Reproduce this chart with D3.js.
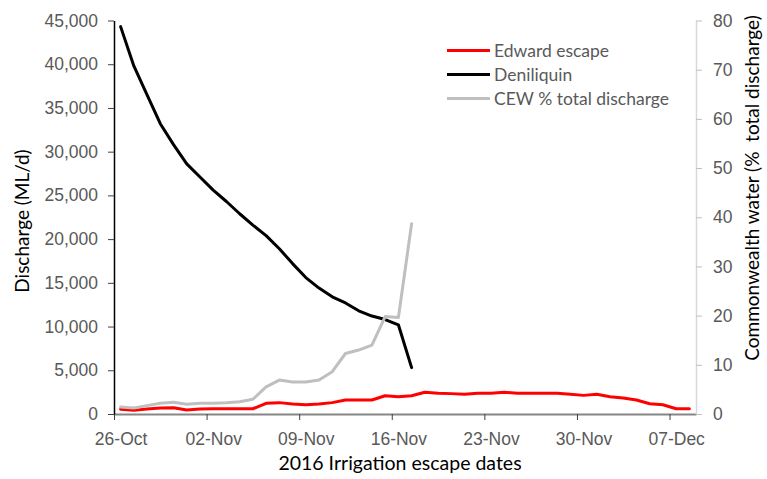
<!DOCTYPE html>
<meta charset="utf-8">
<style>
body { margin: 0; background: #fff; }
svg { font-family: Lato, "Open Sans", sans-serif; }
.tick text { fill: #595959; font-size: 17.5px; }
.ytitle, .xtitle { font-size: 19px; fill: #000; }
.xtitle { font-size: 19.5px; }
.legend text { fill: #595959; font-size: 17.5px; }
</style>
<svg width="767" height="479"></svg>
<script src="https://cdn.jsdelivr.net/npm/d3@7"></script>
<script>

// daily values, first day 26-Oct-2016
var startDate = new Date(2016, 9, 26);
var endDate = new Date(2016, 11, 9);

var edward = [550, 420, 570, 680, 720, 460, 570, 600, 600, 600, 600, 1220, 1300, 1150, 1070,
  1150, 1300, 1600, 1600, 1600, 2090, 1970, 2090, 2480, 2360, 2330, 2250, 2360, 2360, 2480,
  2360, 2360, 2360, 2360, 2250, 2130, 2250, 1980, 1830, 1600, 1180, 1060, 600, 600];

var deniliquin = [44300, 39800, 36500, 33200, 30800, 28600, 27100, 25600, 24300, 22900, 21600,
  20400, 18900, 17200, 15600, 14400, 13400, 12700, 11800, 11200, 10800, 10200, 5300];

var cewPct = [1.4, 1.2, 1.7, 2.2, 2.4, 2.0, 2.2, 2.2, 2.3, 2.5, 3.0, 5.5, 6.9, 6.5, 6.5, 6.9,
  8.6, 12.3, 13.0, 14.0, 19.8, 19.6, 38.7];

var leftTicks = [0, 5000, 10000, 15000, 20000, 25000, 30000, 35000, 40000, 45000];
var rightTicks = [0, 10, 20, 30, 40, 50, 60, 70, 80];
var weekOffsets = [0, 7, 14, 21, 28, 35, 42];

var seriesNames = ["Edward escape", "Deniliquin", "CEW % total discharge"];
var seriesColors = ["#ff0000", "#000000", "#bfbfbf"];

var svg = d3.select("svg");
var plotL = 114, plotR = 696, plotT = 20.5, plotB = 414;

var x = d3.scaleTime().domain([startDate, endDate]).range([plotL, plotR]);
var yL = d3.scaleLinear().domain([0, 45000]).range([plotB, plotT]);
var yR = d3.scaleLinear().domain([0, 80]).range([plotB, plotT]);

function dayMid(i) { return d3.timeHour.offset(d3.timeDay.offset(startDate, i), 12); }

var fmtDate = d3.timeFormat("%d-%b");
var tickDates = weekOffsets.map(function(o) { return d3.timeDay.offset(startDate, o); });

// x axis
var gx = svg.append("g")
    .attr("transform", "translate(0," + plotB + ")")
    .call(d3.axisBottom(x).tickValues(tickDates).tickSize(6).tickSizeOuter(0)
      .tickPadding(13).tickFormat(fmtDate));
gx.select(".domain").attr("stroke", "#868686").attr("stroke-width", 2);
gx.selectAll(".tick line").attr("stroke", "#404040");
// labels sit in the middle of the day
gx.selectAll(".tick text").attr("x", (x(dayMid(0)) - x(startDate)));

// left axis
var gl = svg.append("g")
    .attr("transform", "translate(" + plotL + ",0)")
    .call(d3.axisLeft(yL).tickValues(leftTicks).tickSize(6).tickSizeOuter(0)
      .tickPadding(10).tickFormat(d3.format(",")));
gl.select(".domain").attr("stroke", "#000").attr("stroke-width", 1.5);
gl.selectAll(".tick line").attr("stroke", "#404040");

// right axis
var gr = svg.append("g")
    .attr("transform", "translate(" + plotR + ",0)")
    .call(d3.axisRight(yR).tickValues(rightTicks).tickSize(6).tickSizeOuter(0).tickPadding(11));
gr.select(".domain").attr("stroke", "#d9d9d9").attr("stroke-width", 1.5);
gr.selectAll(".tick line").attr("stroke", "#bfbfbf");

// lines
var lineL = d3.line().x(function(d, i) { return x(dayMid(i)); }).y(function(d) { return yL(d); });
var lineR = d3.line().x(function(d, i) { return x(dayMid(i)); }).y(function(d) { return yR(d); });

svg.append("path").datum(edward)
    .attr("fill", "none").attr("stroke", seriesColors[0]).attr("stroke-width", 3)
    .attr("stroke-linejoin", "round").attr("stroke-linecap", "round")
    .attr("d", lineL);
svg.append("path").datum(deniliquin)
    .attr("fill", "none").attr("stroke", seriesColors[1]).attr("stroke-width", 3)
    .attr("stroke-linejoin", "round").attr("stroke-linecap", "round")
    .attr("d", lineL);
svg.append("path").datum(cewPct)
    .attr("fill", "none").attr("stroke", seriesColors[2]).attr("stroke-width", 3)
    .attr("stroke-linejoin", "round").attr("stroke-linecap", "round")
    .attr("d", lineR);

// titles
svg.append("text").attr("class", "ytitle")
    .attr("transform", "translate(29,221) rotate(-90)")
    .attr("text-anchor", "middle")
    .text("Discharge (ML/d)");
svg.append("text").attr("class", "ytitle")
    .attr("transform", "translate(759,188) rotate(-90)")
    .attr("text-anchor", "middle")
    .style("white-space", "pre")
    .text("Commonwealth water (%  total discharge)");
svg.append("text").attr("class", "xtitle")
    .attr("x", 400).attr("y", 470)
    .attr("text-anchor", "middle")
    .text("2016 Irrigation escape dates");

// legend
var lg = svg.append("g").attr("class", "legend");
seriesNames.forEach(function(name, i) {
  var cy = 50.5 + i * 24;
  lg.append("line").attr("x1", 447).attr("x2", 490).attr("y1", cy).attr("y2", cy)
      .attr("stroke", seriesColors[i]).attr("stroke-width", 3);
  lg.append("text").attr("x", 494).attr("y", cy + 6).text(name);
});

</script>
